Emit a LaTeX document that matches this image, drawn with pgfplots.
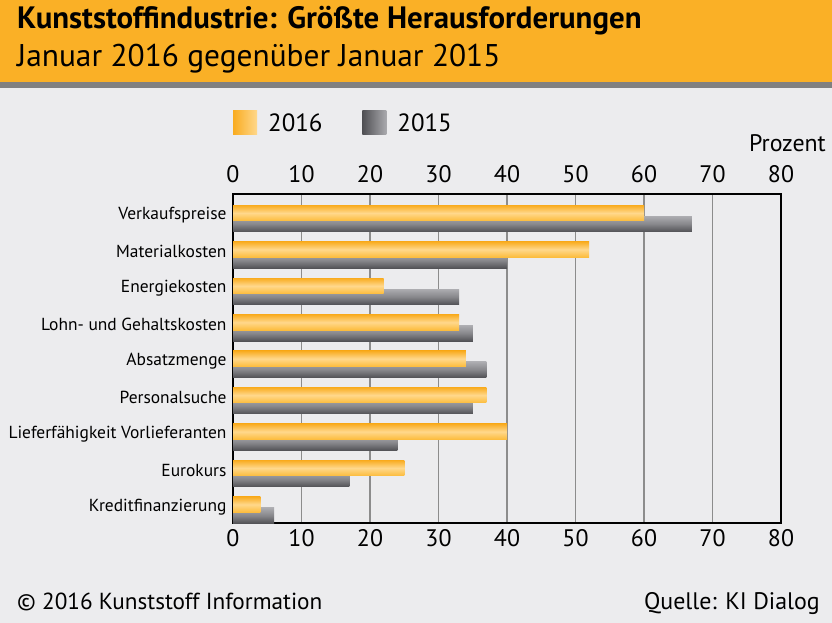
\documentclass[border=0pt]{standalone}
\usepackage{pgfplots}
\pgfplotsset{compat=1.18}
\usepackage{fontspec}
\setmainfont{PT Sans}
\definecolor{bg}{RGB}{236,236,238}
\definecolor{band}{RGB}{250,176,38}
\definecolor{bandline}{RGB}{128,128,128}
\definecolor{orD}{RGB}{249,172,32}
\definecolor{orM}{RGB}{252,188,60}
\definecolor{orL}{RGB}{255,216,140}
\definecolor{grT}{RGB}{172,172,176}
\definecolor{grM}{RGB}{135,135,139}
\definecolor{grB}{RGB}{82,82,86}
\definecolor{grD}{RGB}{80,80,84}
\definecolor{grL}{RGB}{170,170,174}
\definecolor{gridc}{RGB}{140,140,140}

\pgfplotsset{
  obar/.style={forget plot, draw=none, bar shift=-0.151, top color=orD, bottom color=orM, middle color=orL},
  gbar/.style={forget plot, draw=none, bar shift=0.151, top color=grT, bottom color=grB, middle color=grM},
}

\begin{document}
\begin{tikzpicture}
\fill[bg] (0bp,0bp) rectangle (832bp,623bp);
\fill[band] (0bp,541bp) rectangle (832bp,623bp);
\fill[bandline] (0bp,535bp) rectangle (832bp,541bp);
\node[anchor=base west, inner sep=0, font=\fontsize{31}{33}\selectfont\bfseries] at (17bp,594bp) {Kunststoffindustrie: Größte Herausforderungen};
\node[anchor=base west, inner sep=0, font=\fontsize{31.5}{33}\selectfont] at (17bp,556bp) {Januar 2016 gegenüber Januar 2015};
\node[anchor=east, inner sep=0, font=\fontsize{24}{26}\selectfont] at (826bp,480bp) {Prozent};
\node[anchor=base west, inner sep=0, font=\fontsize{23.3}{25}\selectfont] at (17bp,14bp) {© 2016 Kunststoff Information};
\node[anchor=base east, inner sep=0, font=\fontsize{24}{25}\selectfont] at (820bp,14bp) {Quelle: KI Dialog};

\begin{axis}[
  at={(233bp,100bp)}, anchor=south west, scale only axis,
  width=548bp, height=329bp,
  xmin=0, xmax=80, ymin=-0.672, ymax=8.357, y dir=reverse,
  xtick={0,10,...,80}, ytick={0,...,8},
  yticklabels={Verkaufspreise,Materialkosten,Energiekosten,Lohn- und Gehaltskosten,Absatzmenge,Personalsuche,Lieferfähigkeit Vorlieferanten,Eurokurs,Kreditfinanzierung},
  xmajorgrids, major grid style={gridc, line width=1.6bp},
  axis line style={black, line width=1.3bp},
  major tick length=0,
  /pgf/number format/assume math mode=true,
  xticklabel style={font=\fontsize{24}{24}\selectfont, yshift=-3bp},
  yticklabel style={font=\fontsize{17.5}{18}\selectfont, yshift=3bp, xshift=-3bp},
  xbar, bar width=0.425,
  legend style={at={(rel axis cs:0,1)}, anchor=west, yshift=71bp, draw=none, fill=none, inner sep=0,
     font=\fontsize{25}{25}\selectfont,
     /tikz/every odd column/.append style={column sep=9bp},
     /tikz/every even column/.append style={column sep=38bp}},
  legend columns=2,
  legend image code/.code={\path[#1] (0bp,-12bp) rectangle (24bp,12bp);},
]
\addlegendimage{draw=none, left color=orD, right color=orL}
\addlegendentry{2016}
\addlegendimage{draw=none, left color=grD, right color=grL}
\addlegendentry{2015}
% 2015
\addplot[gbar] coordinates {(67,0)};
\addplot[gbar] coordinates {(40,1)};
\addplot[gbar] coordinates {(33,2)};
\addplot[gbar] coordinates {(35,3)};
\addplot[gbar] coordinates {(37,4)};
\addplot[gbar] coordinates {(35,5)};
\addplot[gbar] coordinates {(24,6)};
\addplot[gbar] coordinates {(17,7)};
\addplot[gbar] coordinates {(6,8)};
% 2016
\addplot[obar] coordinates {(60,0)};
\addplot[obar] coordinates {(52,1)};
\addplot[obar] coordinates {(22,2)};
\addplot[obar] coordinates {(33,3)};
\addplot[obar] coordinates {(34,4)};
\addplot[obar] coordinates {(37,5)};
\addplot[obar] coordinates {(40,6)};
\addplot[obar] coordinates {(25,7)};
\addplot[obar] coordinates {(4,8)};
\end{axis}

\begin{axis}[
  at={(233bp,100bp)}, anchor=south west, scale only axis,
  width=548bp, height=329bp,
  xmin=0, xmax=80, ymin=0, ymax=1,
  axis x line*=top, axis y line=none, axis line style={draw=none},
  xtick={0,10,...,80}, major tick length=0,
  /pgf/number format/assume math mode=true,
  xticklabel style={font=\fontsize{24}{24}\selectfont, yshift=8bp},
]
\end{axis}
\end{tikzpicture}
\end{document}
